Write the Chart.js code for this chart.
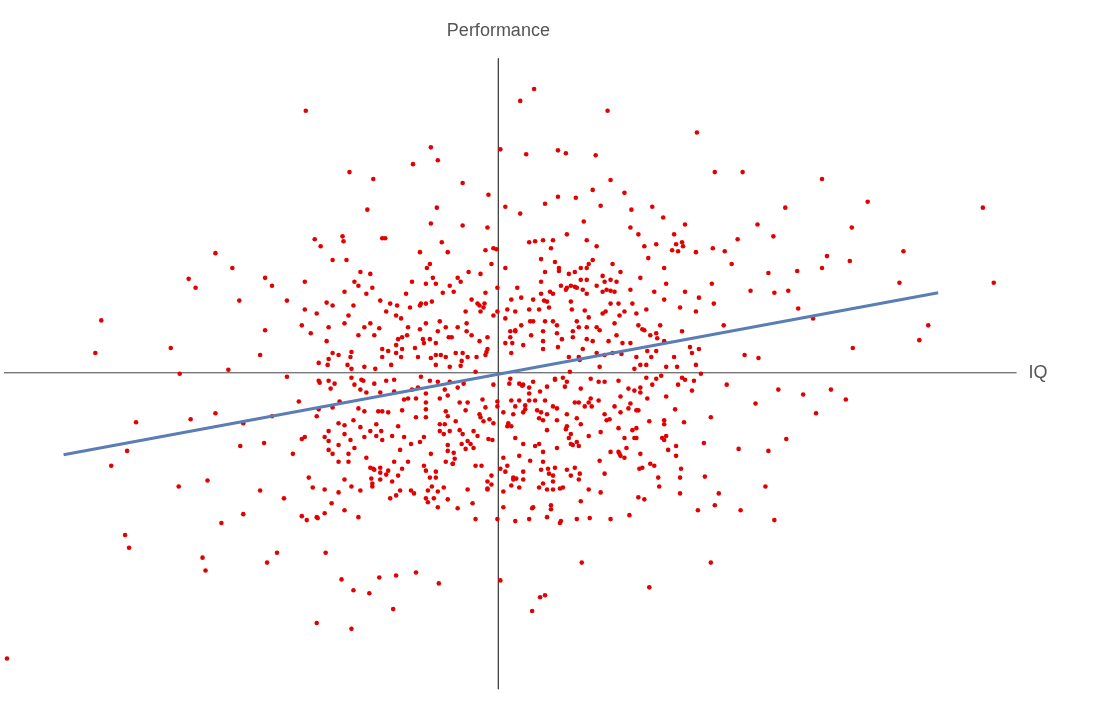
<!DOCTYPE html>
<html><head><meta charset="utf-8">
<script src="https://cdn.jsdelivr.net/npm/chart.js@4/dist/chart.umd.min.js"></script>
<style>html,body{margin:0;padding:0;background:#fff}</style>
</head><body>
<canvas id="c" width="1102" height="708"></canvas>
<script>
const iqValues = [36,22,-194,110,200,-68,2,60,68,28,98,-61,-86,218,-150,246,-126,326,113,-36,488,372,-10,127,95,60,78,47,7,22,103,134,155,166,-132,-62,289,261,356,86,188,241,277,133,-185,-156,-114,37,-285,-268,-312,-305,-235,-68,-36,-11,-2,53,43,147,177,186,216,228,181,408,331,326,354,499,404,433,424,357,301,278,317,302,292,235,272,254,217,215,202,227,262,248,202,185,160,147,122,102,87,105,113,77,61,68,46,32,17,14,7,-19,-13,-38,-66,-56,-78,-98,-92,-120,-146,-173,-198,-213,-228,-261,-235,-240,-330,-400,-406,-321,-272,-213,-180,-172,-148,-138,-108,-78,-58,-38,-23,-12,-27,-50,-68,-84,12,25,42,57,72,82,102,124,143,164,188,204,230,259,282,307,335,350,320,290,272,242,207,214,178,152,133,112,94,68,49,27,10,-1,-18,-36,-54,-73,-95,-117,-133,-160,-181,-201,-228,-257,-285,-310,-365,-374,-390,-322,-293,-260,-236,-207,-198,-171,-151,-126,-105,-88,-68,-46,-28,-10,2,18,32,50,62,82,102,122,142,162,184,208,222,269,278,244,214,218,132,103,92,62,34,17,-11,-26,-41,-65,-88,-109,-128,-148,-168,-182,-198,-216,-240,-257,-279,-298,-295,-376,-372,-233,-223,-174,-158,-146,-130,-120,-103,-83,-60,-106,-183,-148,2,47,42,34,84,152,-495];
const perfValues = [287,275,265,265,243,228,226,225,222,221,220,215,211,203,203,203,196,196,195,192,167,173,180,182,185,178,177,171,168,161,169,165,168,157,165,167,167,150,147,153,150,135,138,147,135,133,136,133,121,106,95,86,96,151,149,147,125,126,115,128,140,128,126,123,123,123,118,106,113,91,91,48,33,25,103,81,55,65,83,110,101,83,70,90,76,48,15,18,24,42,35,43,58,43,63,98,83,87,103,84,73,52,43,30,55,68,81,92,96,81,70,55,38,45,68,71,48,73,88,73,43,18,25,53,20,-1,3,-4,-10,8,21,-7,8,-4,18,7,1,21,38,36,15,25,-6,-12,-19,-7,1,13,6,19,8,-3,-7,-1,-12,-31,-17,-22,-17,-27,-41,-67,-79,-77,-71,-45,-37,-49,-31,-47,-34,-57,-42,-37,-51,-29,-45,-62,-52,-37,-27,-39,-20,-29,-37,-29,-44,-51,-41,-47,-50,-79,-94,-115,-109,-74,-71,-82,-67,-69,-82,-97,-90,-72,-82,-92,-72,-67,-97,-107,-89,-97,-117,-102,-89,-82,-97,-115,-97,-105,-122,-115,-149,-139,-192,-134,-144,-121,-147,-152,-137,-150,-117,-132,-137,-127,-119,-127,-107,-115,-132,-147,-145,-127,-119,-143,-152,-187,-200,-164,-177,-192,-182,-182,-209,-220,-223,-207,-205,-202,-213,-239,-253,-259,-210,-225,-227,-241,-192,-217,-289];
// dense core of the cloud: [IQ, Performance]
const corePairs = [[-167,114],[-153,114],[-139,102],[-129,100],[-145,92],[-141,88],[-155,82],[-133,80],[-127,86],[-119,73],[-109,70],[-102,68],[-93,80],[-87,92],[-73,90],[-63,90],[-49,88],[-45,82],[-41,96],[-79,68],[-73,70],[-67,72],[-89,66],[-113,62],[-103,58],[-151,58],[-167,68],[-183,60],[-155,50],[-135,46],[-129,50],[-125,38],[-141,38],[-171,46],[-173,32],[-189,40],[-91,46],[-79,44],[-73,50],[-59,52],[-61,42],[-53,46],[-47,36],[-41,46],[-32,50],[-32,42],[-19,32],[-11,36],[-18,62],[-21,70],[-27,74],[-33,62],[-101,34],[-97,36],[-103,28],[-97,24],[-117,24],[-111,22],[-117,16],[-149,16],[-161,18],[-167,20],[-171,14],[-181,10],[-76,34],[-69,34],[-63,30],[-75,30],[-63,18],[-53,16],[-43,20],[-36,20],[-31,16],[-22,16],[-13,18],[-11,24],[-37,12],[-49,6],[-63,8],[-81,16],[-98,16],[-103,20],[-135,6],[-124,4],[-148,4],[-152,8],[-195,92],[-195,64],[-179,128],[-157,138],[-117,136],[-79,122],[-72,106],[-69,110],[-57,132],[-51,122],[-13,124],[-5,126],[-7,110],[-30,102],[-18,100],[-1,86],[-5,58],[-1,62],[-14,70],[-15,66],
[31,132],[45,134],[55,134],[69,140],[89,134],[99,128],[141,140],[159,130],[179,130],[185,132],[175,124],[199,122],[151,116],[167,106],[143,96],[169,90],[157,82],[188,82],[167,74],[135,70],[121,70],[113,70],[133,84],[123,102],[115,110],[95,114],[91,110],[83,106],[89,106],[77,102],[71,100],[61,106],[57,112],[47,102],[43,92],[52,82],[55,80],[63,88],[69,86],[73,88],[79,86],[85,84],[89,80],[83,94],[89,94],[99,88],[107,92],[113,94],[119,92],[109,84],[105,82],[117,82],[43,80],[35,74],[23,76],[19,86],[7,106],[13,74],[9,64],[17,62],[31,64],[41,64],[51,66],[49,72],[73,72],[74,64],[91,56],[79,52],[81,46],[75,42],[89,46],[105,60],[108,62],[127,62],[139,60],[149,64],[183,66],[199,62],[163,48],[159,40],[153,38],[145,44],[141,48],[167,32],[133,30],[125,30],[119,38],[111,32],[117,50],[99,46],[95,32],[89,34],[75,36],[64,34],[59,40],[59,48],[55,52],[47,52],[35,52],[45,42],[45,32],[33,38],[23,48],[12,42],[17,42],[12,36],[7,30],[25,28],[13,20],[45,24],[60,26],[85,24],[81,16],[71,16],[99,20],[107,18],[115,20],[139,16],[150,22],[159,22],[154,16],[177,16],[193,26],[195,20],[180,6],[199,8],[169,6],[149,8],[137,4],
[-181,-8],[-171,-8],[-165,-11],[-169,-16],[-148,-5],[-136,-8],[-125,-11],[-113,-8],[-105,-7],[-145,-12],[-139,-17],[-119,-20],[-105,-19],[-87,-17],[-81,-15],[-73,-21],[-91,-26],[-83,-26],[-59,-26],[-54,-17],[-51,-23],[-41,-15],[-35,-11],[-49,-9],[-61,-9],[-69,-8],[-39,-30],[-31,-30],[-16,-27],[-13,-35],[-1,-34],[-5,-12],[-167,-35],[-183,-44],[-161,-51],[-155,-53],[-146,-48],[-135,-39],[-141,-36],[-121,-39],[-111,-40],[-97,-38],[-83,-45],[-73,-45],[-73,-30],[-53,-39],[-51,-44],[-43,-49],[-33,-38],[-19,-42],[-15,-49],[-9,-47],[-5,-51],[-59,-52],[-59,-59],[-55,-62],[-49,-59],[-39,-58],[-25,-59],[-21,-64],[-31,-69],[-6,-68],[-195,-65],[-175,-65],[-171,-59],[-155,-62],[-139,-55],[-129,-59],[-123,-52],[-118,-59],[-123,-64],[-135,-65],[-117,-68],[-107,-64],[-101,-54],[-95,-65],[-79,-70],[-75,-65],[-161,-73],[-149,-68],[-145,-76],[-171,-78],[-167,-82],[-99,-78],[-133,-86],[-161,-90],[-151,-90],[-129,-96],[-125,-98],[-119,-96],[-119,-101],[-113,-103],[-111,-99],[-107,-110],[-97,-97],[-91,-90],[-101,-104],[-119,-108],[-127,-112],[-127,-115],[-155,-108],[-191,-106],[-187,-116],[-175,-118],[-161,-121],[-139,-119],[-99,-119],[-103,-124],[-85,-122],[-75,-94],[-73,-99],[-63,-100],[-63,-106],[-69,-106],[-67,-115],[-71,-119],[-73,-127],[-61,-120],[-55,-116],[-51,-128],[-61,-136],[-71,-131],[-53,-90],[-46,-92],[-44,-87],[-45,-81],[-51,-79],[-51,-73],[-37,-72],[-33,-77],[-25,-76],[-23,-94],[-17,-94],[-7,-104],[-11,-110],[-7,-113],[-11,-118],[-31,-118],[-155,-139],[-141,-146],[-175,-142],[-183,-146],[-193,-149],[-23,-148],[-1,-148],
[11,-11],[21,-11],[24,-13],[35,-9],[31,-15],[31,-21],[49,-14],[57,-6],[65,-5],[69,-9],[67,-14],[83,-16],[93,-6],[101,-9],[107,-9],[121,-8],[131,-16],[137,-18],[143,-15],[149,-5],[155,-12],[159,-6],[169,-24],[185,-5],[181,-12],[195,-18],[197,-8],[143,-20],[150,-26],[123,-24],[101,-28],[93,-26],[91,-30],[81,-30],[87,-34],[77,-30],[69,-42],[59,-36],[55,-34],[47,-28],[37,-28],[31,-28],[27,-33],[21,-28],[13,-28],[17,-34],[5,-40],[15,-42],[25,-40],[39,-38],[43,-40],[41,-46],[45,-48],[59,-48],[49,-58],[69,-54],[79,-46],[83,-52],[73,-62],[71,-66],[73,-72],[79,-70],[81,-74],[75,-73],[91,-64],[103,-60],[107,-42],[109,-48],[117,-34],[123,-40],[131,-36],[139,-38],[141,-38],[121,-56],[127,-66],[135,-58],[139,-56],[137,-66],[139,-66],[129,-76],[121,-80],[113,-80],[123,-84],[127,-86],[143,-82],[153,-92],[157,-94],[145,-96],[167,-48],[167,-52],[187,-50],[165,-66],[169,-64],[167,-68],[179,-74],[171,-78],[179,-84],[161,-106],[183,-106],[183,-122],[141,-126],[147,-128],[201,-139],[9,-54],[13,-54],[17,-66],[25,-72],[37,-74],[41,-72],[45,-80],[59,-76],[5,-86],[21,-84],[9,-94],[7,-100],[15,-106],[15,-108],[25,-100],[25,-108],[43,-98],[45,-90],[51,-102],[55,-104],[57,-96],[55,-110],[45,-112],[41,-116],[49,-118],[55,-118],[65,-116],[69,-98],[77,-96],[73,-104],[81,-108],[91,-118],[107,-102],[83,-130],[53,-134],[53,-138],[35,-136],[5,-136],[5,-120],[13,-114],[21,-116],[31,-148],[49,-146],[63,-150],[79,-148],[113,-148]];
const fitIQ = [-438, 443];
const fitPerf = [-83, 81];
const hAxisIQ = [-498, 522];
const vAxisPerf = [318, -320];

const pts = iqValues.map((v,i)=>({x:v,y:perfValues[i]})).concat(corePairs.map(p=>({x:p[0],y:p[1]})));
const labelPlugin = {
  id:'labels',
  afterDraw(chart){
    const ctx = chart.ctx, xs = chart.scales.x, ys = chart.scales.y;
    ctx.save();
    ctx.fillStyle = '#555';
    ctx.font = '18px "Liberation Sans", Arial, sans-serif';
    ctx.textAlign = 'center'; ctx.textBaseline = 'middle';
    ctx.fillText('Performance', xs.getPixelForValue(0), ys.getPixelForValue(346));
    ctx.textAlign = 'left';
    ctx.fillText('IQ', xs.getPixelForValue(534), ys.getPixelForValue(0));
    ctx.restore();
  }
};
new Chart(document.getElementById('c'), {
  type:'scatter',
  data:{datasets:[
    {type:'line', data:hAxisIQ.map(v=>({x:v,y:0})), borderColor:'#444', borderWidth:1, pointRadius:0, order:3},
    {type:'line', data:vAxisPerf.map(v=>({x:0,y:v})), borderColor:'#444', borderWidth:1, pointRadius:0, order:3},
    {data:pts, backgroundColor:'#e30000', borderWidth:0, pointRadius:2.3, order:2},
    {type:'line', data:fitIQ.map((v,i)=>({x:v,y:fitPerf[i]})), borderColor:'#5b7db5', borderWidth:3, pointRadius:0, order:1}
  ]},
  options:{
    responsive:false, animation:false,
    layout:{padding:0},
    plugins:{legend:{display:false}, tooltip:{enabled:false}},
    scales:{
      x:{type:'linear', min:-498, max:604, display:false},
      y:{type:'linear', min:-335, max:373, display:false}
    }
  },
  plugins:[labelPlugin]
});
</script>
</body></html>
